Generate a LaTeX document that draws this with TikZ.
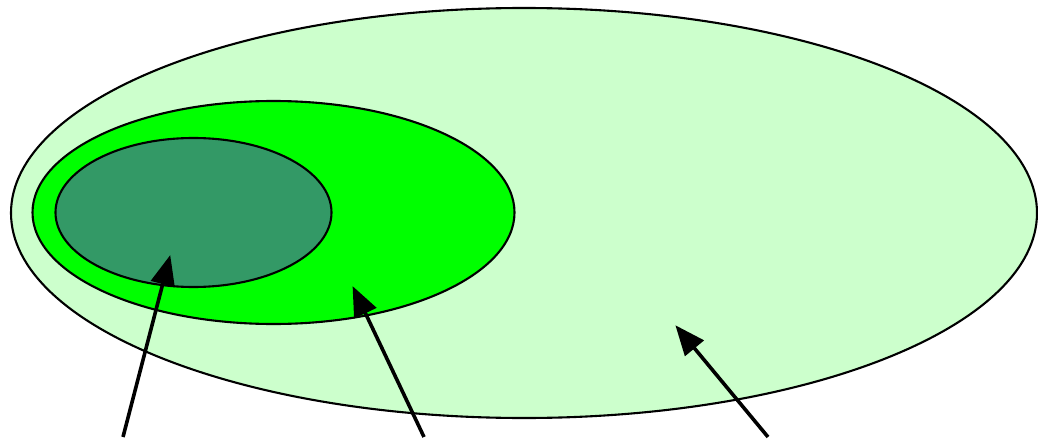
\documentclass[tikz,border=0pt]{standalone}
\usetikzlibrary{arrows.meta}
\definecolor{outerg}{HTML}{CCFFCC}
\definecolor{midg}{HTML}{00FF00}
\definecolor{innerg}{HTML}{339966}
\tikzset{
  blob/.style={draw=black, line width=2.1pt},
  pointer/.style={line width=3.6pt, -{Triangle[length=30pt,width=24pt]}, shorten >=-1pt}
}
\begin{document}
\begin{tikzpicture}[x=1pt,y=-1pt]
\useasboundingbox (0,0) rectangle (1038,441);
\path[blob, fill=outerg] (524,213) ellipse [x radius=513, y radius=205];
\path[blob, fill=midg] (273.5,212.5) ellipse [x radius=241, y radius=111.5];
\path[blob, fill=innerg] (193.5,212.5) ellipse [x radius=138, y radius=74.5];
\coordinate (s1) at (123,437);
\coordinate (t1) at (170,256);
\coordinate (s2) at (424,437);
\coordinate (t2) at (353,287);
\coordinate (s3) at (768,437);
\coordinate (t3) at (676,326);
\draw[pointer] (s1) -- (t1);
\draw[pointer] (s2) -- (t2);
\draw[pointer] (s3) -- (t3);
\end{tikzpicture}
\end{document}
